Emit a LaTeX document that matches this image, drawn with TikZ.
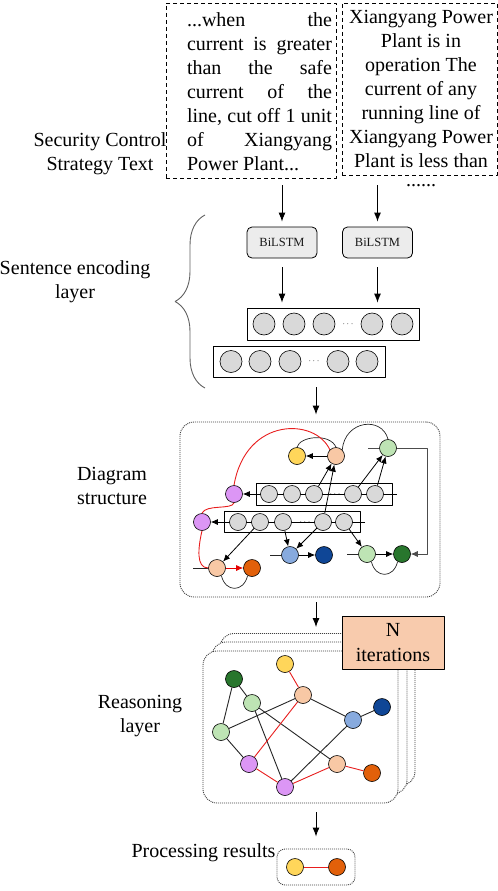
\documentclass[tikz,border=0pt]{standalone}
\usepackage{fontspec}
\setmainfont{Liberation Serif}
\usepackage{tikz}
\usetikzlibrary{arrows,positioning,shapes,calc}
\usetikzlibrary{decorations.pathreplacing,arrows.meta,backgrounds}

\definecolor{cgray}{RGB}{217,217,217}
\definecolor{cyellow}{RGB}{255,214,90}
\definecolor{cpeach}{RGB}{248,200,165}
\definecolor{corange}{RGB}{226,96,10}
\definecolor{cviolet}{RGB}{220,150,245}
\definecolor{clgreen}{RGB}{190,228,180}
\definecolor{cdgreen}{RGB}{40,118,45}
\definecolor{clblue}{RGB}{135,170,222}
\definecolor{cdblue}{RGB}{15,70,150}
\definecolor{cred}{RGB}{232,30,30}
\definecolor{citer}{RGB}{248,203,173}

\tolerance=10000
\hbadness=10000

\tikzset{
  lbl/.style={align=center, inner sep=0},
  txtbox/.style={draw, dash pattern=on 4bp off 3bp, fill=white, line width=0.8bp, minimum width=170bp, minimum height=175bp},
  lstm/.style={draw, rounded corners=5bp, fill=gray!15, line width=0.8bp, minimum width=70bp, minimum height=31bp,
    text=gray!20!black, font=\fontsize{12.5bp}{14bp}\selectfont},
  cell/.style={circle, draw, fill=cgray, line width=0.6bp, minimum size=22bp, inner sep=0},
  rowbox/.style={draw, line width=0.8bp, minimum width=172bp},
  srow/.style={draw, line width=0.7bp, minimum width=136bp},
  gn/.style={circle, draw, line width=0.6bp, minimum size=17bp, inner sep=0},
  dotsym/.style={inner sep=0, font=\fontsize{9bp}{9bp}\selectfont},
  panel/.style={draw=gray!50!black, dash pattern=on 1bp off 1bp, line width=0.9bp, rounded corners=14bp},
  flow/.style={-{Latex[length=9bp,width=7bp]}, line width=0.9bp},
  sarr/.style={-{Latex[length=7bp,width=6bp]}, line width=0.8bp},
  thin/.style={line width=0.7bp, draw=gray!30!black},
  redl/.style={line width=0.9bp, draw=cred},
}

\begin{document}
\begin{tikzpicture}[>=latex', line join=bevel, x=1bp, y=-1bp, font=\fontsize{20bp}{24bp}\selectfont]
  \useasboundingbox (0,0) rectangle (498,891);
  \pgfsetlinewidth{0.8bp}
%%
  % Node: labels
  \node[lbl] (lblStrat) at (100,154) {Security Control\\Strategy Text};
  \node[lbl] (lblEnc) at (75,281.5) {Sentence encoding\\layer};
  \node[lbl] (lblStruct) at (112,485.5) {Diagram\\structure};
  \node[lbl] (lblReason) at (140,716.5) {Reasoning\\layer};
  \node[lbl] (lblResult) at (203.5,853) {Processing results};
  % Node: stratA
  \node[txtbox] (stratA) at (251,90.5) {};
  \node[text width=145bp, align=justify, inner sep=0] (stratAtxt) at (259.5,92)
    {...when the\linebreak current is greater\linebreak than the safe\linebreak current of the\linebreak
     line, cut off 1 unit\linebreak of Xiangyang\linebreak Power Plant...};
  % Node: stratB
  \node[txtbox, minimum width=155bp, minimum height=172bp] (stratB) at (419.5,89) {};
  \node[lbl] (stratBtxt) at (421,88.5)
    {Xiangyang Power\\Plant is in\\operation The\\current of any\\running line of\\Xiangyang Power\\Plant is less than};
  \node[inner sep=0] (more) at (421,186) {......};
  % Node: lstmA, lstmB
  \node[lstm] (lstmA) at (282,242.5) {BiLSTM};
  \node[lstm] (lstmB) at (377.5,242.5) {BiLSTM};
  % Edge: stratA -> lstmA, stratB -> lstmB
  \draw[flow, shorten <=7bp, shorten >=5bp] (stratA.south -| lstmA) -- (lstmA.north);
  \draw[flow, shorten <=10bp, shorten >=5bp] (stratB.south -| lstmB) -- (lstmB.north);
  % Node: rowA, rowB
  \node[rowbox, minimum height=32bp] (rowA) at (333,324) {};
  \foreach \x [count=\i] in {264,294,324,372,402}
    \node[cell] (a\i) at (\x,324) {};
  \node[dotsym] (aDots) at (348,324) {$\cdots$};
  \node[rowbox, minimum height=31bp] (rowB) at (299,361.5) {};
  \foreach \x [count=\i] in {231,260,290,338,367}
    \node[cell] (b\i) at (\x,361.5) {};
  \node[dotsym] (bDots) at (314,361.5) {$\cdots$};
  % Edge: lstmA -> rowA, lstmB -> rowA
  \draw[flow, shorten <=9bp, shorten >=5bp] (lstmA.south) -- (lstmA.south |- rowA.north);
  \draw[flow, shorten <=9bp, shorten >=5bp] (lstmB.south) -- (lstmB.south |- rowA.north);
  % brace
  \draw[decorate, decoration={brace, amplitude=30bp}, draw=gray!75!black, line width=0.9bp] (205,388) -- (205,215);

  % Node: panelS
  \node[panel, minimum width=260bp, minimum height=175bp] (panelS) at (310,509.5) {};
  % Edge: rowB -> panelS
  \draw[flow, shorten <=10bp, shorten >=7bp] ([xshift=17bp]rowB.south) -- ([xshift=17bp]rowB.south |- panelS.north);
  % Node: structure nodes
  \node[gn, fill=cyellow] (sY) at (297,456) {};
  \node[gn, fill=cpeach] (sPa) at (336,456) {};
  \node[gn, fill=clgreen] (sGt) at (388,448) {};
  \node[srow, minimum height=22bp] (rowU) at (324,494) {};
  \foreach \n/\x in {u1/269,u2/292,u3/314,u5/353,u6/375}
    \node[gn, fill=cgray] (\n) at (\x,494) {};
  \node[dotsym] (uDots) at (335,494) {$\cdots$};
  \node[gn, fill=cviolet] (sV1) at (234,494) {};
  \node[srow, minimum height=21bp] (rowL) at (292,521.5) {};
  \foreach \n/\x in {l1/238,l2/260,l3/283,l5/323,l6/344}
    \node[gn, fill=cgray] (\n) at (\x,522) {};
  \node[dotsym] (lDots) at (305,522) {$\cdots$};
  \node[gn, fill=cviolet] (sV2) at (202,522) {};
  \node[gn, fill=cpeach] (sPb) at (217,568) {};
  \node[gn, fill=corange] (sO) at (252,568) {};
  \node[gn, fill=clblue] (sLb) at (290,555) {};
  \node[gn, fill=cdblue] (sDb) at (324,555) {};
  \node[gn, fill=clgreen] (sG2) at (367,554) {};
  \node[gn, fill=cdgreen] (sDg) at (402,554) {};
  \coordinate (uEnd) at (397,494);
  \coordinate (lEnd) at (365,522);
  \coordinate (pIn) at (193,568);
  \coordinate (bIn) at (270,555);
  \coordinate (gIn) at (347,554);
  \coordinate (gLeft) at (368,448);
  \coordinate (gCorner) at (427,448);
  % Edge: rows -> violet nodes
  \begin{pgfonlayer}{background}
    \draw[sarr] (uEnd) -- (sV1);
    \draw[sarr] (lEnd) -- (sV2);
  \end{pgfonlayer}
  % Edge: sPa -> sY, arcs
  \draw[sarr] (sPa) -- (sY);
  \draw[thin] (sY.north) .. controls (300,436) and (330,433) .. (sPa.north);
  \draw[thin] (sPa.north east) .. controls (345,420) and (382,416) .. (sGt.north);
  % Edge: rows -> upper nodes
  \draw[sarr] (u3) -- (sPa);
  \draw[sarr] (l5) -- (sPa);
  \draw[sarr] (u5) -- (sGt);
  \draw[sarr] (u6) -- (sGt);
  % Edge: rows -> lower nodes
  \draw[sarr] (l2) -- (sPb);
  \draw[sarr] (l3) -- (sLb);
  \draw[sarr] (l5) -- (sLb);
  \draw[sarr] (l6) -- (sG2);
  \draw[thin] (pIn) -- (sPb);
  \draw[thin] (bIn) -- (sLb);
  \draw[thin] (gIn) -- (sG2);
  \draw[sarr] (sLb) -- (sDb);
  \draw[sarr] (sG2) -- (sDg);
  \draw[sarr, red!90!black] (sPb) -- (sO);
  \draw[thin] (sPb.-60) .. controls +(4,17) and +(-4,17) .. (sO.-120);
  \draw[thin] (sG2.-60) .. controls +(4,17) and +(-4,17) .. (sDg.-120);
  % Edge: sGt -> sDg
  \draw[thin, draw=gray!60!black] (gLeft) -- (sGt);
  \draw[sarr, draw=gray!60!black, line width=0.7bp] (sGt) -- (gCorner) |- (sDg);
  % Edge: red path
  \draw[redl] (sPa.north west) .. controls (316,418) and (246,416) .. (sV1.north);
  \draw[redl] (sV1.south) .. controls (232,510) and (206,504) .. (sV2.north);
  \draw[redl] (sV2.south) .. controls (198,548) and (196,568) .. (sPb.west);

  % Node: panelR (stacked)
  \node[panel, fill=white, minimum width=195bp, minimum height=152bp] (backB) at (317.5,709.5) {};
  \node[panel, fill=white, minimum width=195bp, minimum height=152bp] (backA) at (309.5,718) {};
  \node[panel, fill=white, minimum width=195bp, minimum height=152bp] (panelR) at (300.5,727) {};
  \node[draw, fill=citer, line width=0.8bp, minimum width=102bp, minimum height=53bp, align=center,
    font=\fontsize{20bp}{25bp}\selectfont] (iter) at (393,642.5) {N\\iterations};
  % Edge: panelS -> panelR
  \draw[flow, shorten <=5bp, shorten >=6bp] ([xshift=6bp]panelS.south) -- ([xshift=6bp]panelS.south |- backB.north);
  % Node: reasoning graph
  \node[gn, fill=cyellow] (rY) at (285,664) {};
  \node[gn, fill=cdgreen] (rDg) at (234,679) {};
  \node[gn, fill=cpeach] (rP1) at (303,695) {};
  \node[gn, fill=clgreen] (rLa) at (252,703) {};
  \node[gn, fill=cdblue] (rDb) at (382,707) {};
  \node[gn, fill=clblue] (rLb) at (353,720) {};
  \node[gn, fill=clgreen] (rLc) at (221,732) {};
  \node[gn, fill=cviolet] (rVa) at (249,764) {};
  \node[gn, fill=cpeach] (rP2) at (337,764) {};
  \node[gn, fill=corange] (rO) at (372,773) {};
  \node[gn, fill=cviolet] (rVb) at (285,787) {};
  % Edge: reasoning graph
  \foreach \a/\b in {rDg/rLc,rDg/rLa,rLc/rP1,rLc/rVa,rLa/rVb,rLa/rP2,rP1/rLb,rLb/rDb,rLb/rVb}
    \draw[thin, line width=0.9bp] (\a) -- (\b);
  \foreach \a/\b in {rY/rP1,rP1/rVa,rVa/rVb,rVb/rP2,rP2/rO}
    \draw[redl] (\a) -- (\b);

  % Node: results
  \node[panel, rounded corners=8bp, minimum width=78bp, minimum height=36bp] (rBox) at (316,867) {};
  \node[gn, fill=cyellow] (oY) at (295,867) {};
  \node[gn, fill=corange] (oO) at (337,867) {};
  \draw[redl] (oY) -- (oO);
  % Edge: panelR -> rBox
  \draw[flow, shorten <=9bp, shorten >=12bp] (rBox.north |- panelR.south) -- (rBox.north);
%
\end{tikzpicture}
\end{document}
